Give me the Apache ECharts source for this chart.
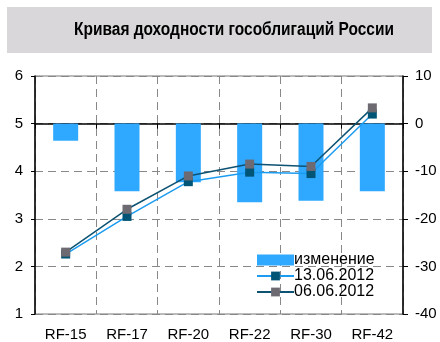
<!DOCTYPE html>
<html>
<head>
<meta charset="utf-8">
<script src="https://cdn.jsdelivr.net/npm/echarts@6/dist/echarts.min.js"></script>
<style>
  html, body { margin: 0; padding: 0; background: #fff; }
  #chart { width: 440px; height: 342px; }
</style>
</head>
<body>
<div id="chart"></div>
<script>
// Bonds along the curve
const categories = ['RF-15', 'RF-17', 'RF-20', 'RF-22', 'RF-30', 'RF-42'];
// Weekly change in yield, basis points (right axis)
const changeBp = [-3.6, -14.2, -12.3, -16.5, -16.2, -14.2];
// Yields, % (left axis)
const yield130612 = [2.26, 3.05, 3.78, 3.98, 3.95, 5.20];
const yield060612 = [2.30, 3.20, 3.90, 4.15, 4.10, 5.33];

const chartTitle = 'Кривая доходности гособлигаций России';

const chart = echarts.init(document.getElementById('chart'));
const font = 'Liberation Sans, Arial, sans-serif';

chart.setOption({
  animation: false,
  backgroundColor: '#fff',
  graphic: [{
    type: 'rect',
    shape: { x: 7, y: 7, width: 425, height: 46 },
    style: { fill: '#d9d7da' },
    z: -1
  }, {
    // condensed bold heading
    type: 'text',
    x: 234,
    y: 30,
    scaleX: 0.86,
    style: {
      text: chartTitle,
      fontFamily: font,
      fontWeight: 'bold',
      fontSize: 18,
      fill: '#000',
      align: 'center',
      verticalAlign: 'middle'
    }
  }],
  grid: {
    left: 35, right: 37, top: 76, bottom: 27,
    show: true, borderColor: '#777', borderWidth: 1
  },
  legend: {
    orient: 'vertical',
    left: 251,
    top: 247,
    itemWidth: 37,
    itemHeight: 11,
    itemGap: 0,
    textStyle: { fontFamily: font, fontSize: 16, color: '#000', padding: [0, 0, 0, -5] },
    data: [{ name: 'изменение', icon: 'rect' }, '13.06.2012', '06.06.2012']
  },
  xAxis: {
    type: 'category',
    data: categories,
    axisLine: { lineStyle: { color: '#000', width: 1.5 } },
    axisTick: { show: true, length: 5, lineStyle: { color: '#000' } },
    axisLabel: { fontFamily: font, fontSize: 15, color: '#000', margin: 13 },
    splitLine: { show: true, lineStyle: { color: '#888', type: [8, 5], width: 1 } }
  },
  yAxis: [{
    type: 'value',
    min: 1, max: 6, interval: 1,
    axisLine: { show: true, lineStyle: { color: '#000', width: 1.5 } },
    axisTick: { show: true, length: 4, lineStyle: { color: '#000' } },
    axisLabel: { fontFamily: font, fontSize: 15, color: '#000', margin: 12 },
    splitLine: { show: true, lineStyle: { color: '#888', type: [8, 5], width: 1 } }
  }, {
    type: 'value',
    min: -40, max: 10, interval: 10,
    position: 'right',
    axisLine: { show: true, lineStyle: { color: '#000', width: 1.5 } },
    axisTick: { show: true, length: 5, lineStyle: { color: '#000' } },
    axisLabel: { fontFamily: font, fontSize: 15, color: '#000', margin: 12 },
    splitLine: { show: false }
  }],
  series: [{
    name: 'изменение',
    type: 'bar',
    yAxisIndex: 1,
    data: changeBp,
    barWidth: 25,
    itemStyle: { color: '#2ea9ff' }
  }, {
    name: '13.06.2012',
    type: 'line',
    yAxisIndex: 0,
    data: yield130612,
    symbol: 'rect',
    symbolSize: 9,
    lineStyle: { color: '#1c9cf0', width: 1.5 },
    itemStyle: { color: '#005476' }
  }, {
    name: '06.06.2012',
    type: 'line',
    yAxisIndex: 0,
    data: yield060612,
    symbol: 'rect',
    symbolSize: 9,
    lineStyle: { color: '#0c5272', width: 1.5 },
    itemStyle: { color: '#6e6a72' }
  }]
});
</script>
</body>
</html>
